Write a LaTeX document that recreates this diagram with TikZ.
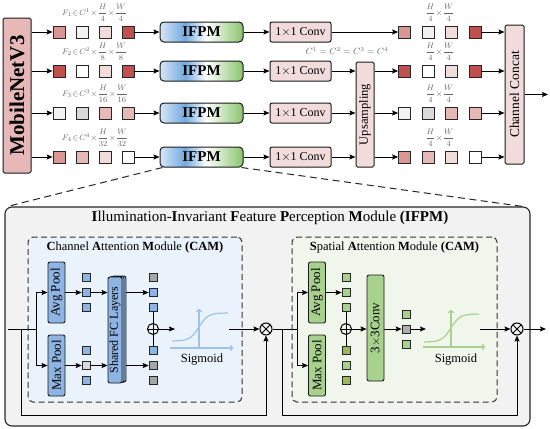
\documentclass[tikz,border=0pt]{standalone}
\usepackage{amsmath}
\usepackage{fontspec}
\setmainfont{Liberation Serif}
\usepackage{graphicx}
\usepackage{tikz}
\usetikzlibrary{arrows.meta, positioning, calc}

\definecolor{ifpmlight}{RGB}{214,230,246}
\definecolor{ifpmblue}{RGB}{116,170,224}
\definecolor{ifpmgreen}{RGB}{138,196,108}
\pgfdeclarehorizontalshading{ifpmshade}{100bp}{%
  color(0bp)=(ifpmlight); color(25bp)=(ifpmlight); color(40bp)=(ifpmblue);
  color(53bp)=(white); color(75bp)=(ifpmgreen); color(100bp)=(ifpmgreen)}

\begin{document}
\begin{tikzpicture}[
  x=1pt, y=-1pt,
  execute at begin picture={
    \definecolor{mnpink}{RGB}{230,184,183}
    \definecolor{convpink}{RGB}{242,220,219}
    \definecolor{sqdark}{RGB}{192,80,77}
    \definecolor{sqmid}{RGB}{217,150,148}
    \definecolor{sqpink}{RGB}{230,184,183}
    \definecolor{sqlight}{RGB}{242,220,219}
    \definecolor{sqgrayA}{RGB}{242,242,242}
    \definecolor{sqgrayB}{RGB}{217,217,217}
    \definecolor{sqgrayC}{RGB}{166,166,166}
    \definecolor{boxgray}{RGB}{242,242,242}
    \definecolor{camfill}{RGB}{234,243,252}
    \definecolor{samfill}{RGB}{240,246,235}
    \definecolor{poolblue}{RGB}{141,180,226}
    \definecolor{sigblue}{RGB}{157,195,230}
    \definecolor{poolgreen}{RGB}{169,209,142}
    \definecolor{olive}{RGB}{155,187,89}
    \definecolor{siggreen}{RGB}{169,209,142}
  },
  >={Stealth[length=6pt,width=5pt,inset=1pt]},
  arrow/.style={->, line width=1pt},
  line/.style={line width=1pt},
  sq/.style={draw=black!85, line width=0.7pt, minimum size=12, inner sep=0},
  mini/.style={draw=black!85, line width=0.6pt, minimum size=8, inner sep=0},
  ifpm/.style={draw=black!90, line width=1pt, rounded corners=4pt,
    shade, shading=ifpmshade, minimum width=83, minimum height=20, inner sep=0,
    font=\fontsize{15}{15}\selectfont\bfseries},
  conv/.style={draw=black!90, line width=1pt, rounded corners=2pt, fill=convpink,
    minimum width=61, minimum height=20, inner sep=0,
    font=\fontsize{12}{12}\selectfont},
  tall/.style={draw=black!90, line width=1pt, rounded corners=1.5pt,
    fill=convpink, inner sep=0},
  lab/.style={text=black!60, inner sep=0, font=\fontsize{8.5}{9}\selectfont},
  bigbox/.style={draw=black!85, line width=1.1pt, rounded corners=7pt, fill=boxgray},
  modbox/.style={draw=black!80, line width=1pt, dash pattern=on 6pt off 3.5pt,
    rounded corners=5pt},
  modtitle/.style={inner sep=0, font=\fontsize{12.5}{13}\selectfont},
  zoomline/.style={draw=black!85, line width=1pt, dash pattern=on 7pt off 4.5pt},
  pool/.style={draw=black!90, line width=0.9pt, rounded corners=2pt, inner sep=0,
    minimum width=17, font=\fontsize{13}{13}\selectfont},
  opcirc/.style={circle, draw=black, line width=1pt, minimum size=11, inner sep=0},
  addop/.style={opcirc, path picture={\draw[line width=1pt]
    (path picture bounding box.north) -- (path picture bounding box.south)
    (path picture bounding box.west) -- (path picture bounding box.east);}},
  mulop/.style={opcirc, minimum size=12, path picture={\draw[line width=1pt]
    (path picture bounding box.north west) -- (path picture bounding box.south east)
    (path picture bounding box.south west) -- (path picture bounding box.north east);}},
  sigaxis/.style={line width=1.2pt, -{To[length=3pt,width=6pt]}},
  sigtext/.style={inner sep=0, font=\fontsize{12.5}{13}\selectfont}
]
\useasboundingbox (0,0) rectangle (550,429);

% backbone, upsampling and concat
\node[tall, fill=mnpink, minimum width=28, minimum height=155,
  font=\fontsize{21}{21}\selectfont\bfseries] (mobilenet) at (17,95.5)
  {\rotatebox{90}{MobileNetV3}};
\node[tall, minimum width=18, minimum height=105,
  font=\fontsize{12.5}{12.5}\selectfont] (ups) at (365,114.5)
  {\rotatebox{90}{Upsampling}};
\node[tall, minimum width=19, minimum height=139,
  font=\fontsize{13.5}{13.5}\selectfont] (concat) at (514.5,94.5)
  {\rotatebox{90}{Channel Concat}};
\coordinate (out) at (548,94.5);
\draw[arrow] (concat) -- (out);

% four feature levels
\foreach \row/\y/\ca/\cb/\cc/\cd/\den in {
    1/32/sqmid/sqgrayA/sqlight/sqdark/4,
    2/71/sqdark/white/sqlight/sqdark/8,
    3/113/sqgrayA/sqgrayB/sqpink/sqpink/16,
    4/157/sqmid/sqpink/sqlight/white/32}{
  \node[sq, fill=\ca] (in\row-1) at (59,\y) {};
  \node[sq, fill=\cb] (in\row-2) at (82,\y) {};
  \node[sq, fill=\cc] (in\row-3) at (105,\y) {};
  \node[sq, fill=\cd] (in\row-4) at (128,\y) {};
  \node[lab, anchor=west] (flab\row) at (62,\y-19)
    {$F_\row\!\in\! C^\row\!\times\!\dfrac{H}{\den}\!\times\!\dfrac{W}{\den}$};
  \node[ifpm] (ifpm\row) at (201.5,\y) {IFPM};
  \node[conv] (conv\row) at (300.5,\y) {1$\times$1 Conv};
  \node[sq, fill=\ca] (out\row-1) at (404.5,\y) {};
  \node[sq, fill=\cb] (out\row-2) at (428,\y) {};
  \node[sq, fill=\cc] (out\row-3) at (451.5,\y) {};
  \node[sq, fill=\cd] (out\row-4) at (475,\y) {};
  \node[lab] (olab\row) at (440,\y-19) {$\dfrac{H}{4}\!\times\!\dfrac{W}{4}$};
  \draw[arrow] (mobilenet.east |- in\row-1) -- (in\row-1);
  \draw[arrow] (in\row-4) -- (ifpm\row);
  \draw[arrow] (ifpm\row) -- (conv\row);
  \draw[arrow] (out\row-4) -- (concat.west |- out\row-4);
}
\draw[arrow] (conv1) -- (out1-1);
\foreach \row in {2,3,4}{
  \draw[arrow] (conv\row) -- (ups.west |- conv\row);
  \draw[arrow] (ups.east |- out\row-1) -- (out\row-1);
}
\node[lab, font=\fontsize{9}{9}\selectfont] (clab) at (347,51) {$C^1=C^2=C^3=C^4$};

% IFPM detail
\node[bigbox, minimum width=525, minimum height=219] (ifpmbox) at (267.5,316.5) {};
\draw[zoomline] ([xshift=3pt]ifpm4.south west) -- ([xshift=3pt]ifpmbox.north west);
\draw[zoomline] ([xshift=-2pt]ifpm4.south east) -- ([xshift=-8pt]ifpmbox.north east);
\node[inner sep=0, font=\fontsize{15}{15}\selectfont] (ifpmtitle) at (270,218)
  {\textbf{I}llumination-\textbf{I}nvariant \textbf{F}eature \textbf{P}erception
   \textbf{M}odule \textbf{(IFPM)}};

% channel attention
\node[modbox, fill=camfill, minimum width=214, minimum height=165] (cam) at (135,319.5) {};
\node[modtitle] (camtitle) at (135,247)
  {\textbf{C}hannel \textbf{A}ttention \textbf{M}odule \textbf{(CAM)}};
\node[pool, fill=poolblue, minimum height=61] (camavg) at (56.5,292.5) {\rotatebox{90}{Avg Pool}};
\node[pool, fill=poolblue, minimum height=61] (cammax) at (56.5,365.5) {\rotatebox{90}{Max Pool}};
\node[mini, fill=poolblue] (ca1) at (86,277.5) {};
\node[mini, fill=poolblue] (ca2) at (86,292.5) {};
\node[mini, fill=poolblue] (ca3) at (86,307.5) {};
\node[mini, fill=poolblue] (cm1) at (86,350.5) {};
\node[mini, fill=sqgrayB] (cm2) at (86,365.5) {};
\node[mini, fill=poolblue] (cm3) at (86,380.5) {};
\node[pool, fill=poolblue, minimum width=14, minimum height=106] (fcback2) at (119,329) {};
\node[pool, fill=poolblue, minimum width=14, minimum height=106] (fcback1) at (117,329.5) {};
\node[pool, fill=poolblue, minimum width=14, minimum height=106,
  font=\fontsize{12}{12}\selectfont] (fc) at (115,330) {\rotatebox{90}{Shared FC Layers}};
\node[mini, fill=sqgrayC] (cb1) at (153,277.5) {};
\node[mini, fill=poolblue] (cb2) at (153,292.5) {};
\node[mini, fill=poolblue] (cb3) at (153,307.5) {};
\node[mini, fill=poolblue] (cd1) at (153,350.5) {};
\node[mini, fill=sqgrayC] (cd2) at (153,365.5) {};
\node[mini, fill=sqgrayC] (cd3) at (153,380.5) {};
\node[addop] (add1) at (153,329) {};
\node[mulop] (mul1) at (266,329) {};
\coordinate (camin) at (8,329);
\coordinate (camres) at (21,329);
\coordinate (camsplit) at (36,329);
\coordinate (sigin1) at (175,329);
\coordinate (sigout1) at (229,329);

\draw[line] (camin) -- (camsplit);
\draw[arrow] (camsplit) |- (camavg.west);
\draw[arrow] (camsplit) |- (cammax.west);
\draw[arrow] (camres) -- ++(0,86) -| (mul1.south);
\draw[arrow] (camavg) -- (ca2);
\draw[arrow] (cammax) -- (cm2);
\draw[arrow] (ca2) -- (ca2 -| fc.west);
\draw[arrow] (cm2) -- (cm2 -| fc.west);
\draw[arrow] (cb2 -| fcback2.east) -- (cb2);
\draw[arrow] (cd2 -| fcback2.east) -- (cd2);
\draw[line] (cb3) -- (add1);
\draw[line] (cd1) -- (add1);
\draw[arrow] (add1) -- (sigin1);
\draw[arrow] (sigout1) -- (mul1);

\draw[sigaxis, draw=sigblue] (170,348) -- (233,348);
\draw[sigaxis, draw=sigblue] (199,348) -- (199,309);
\draw[line width=1.2pt, sigblue] plot[domain=-27:29, samples=40] ({199+\x},{327-14*tanh(\x/9)});
\node[sigtext] (sig1) at (202,360) {Sigmoid};

% spatial attention
\node[modbox, fill=samfill, minimum width=205, minimum height=165] (sam) at (394.5,319.5) {};
\node[modtitle] (samtitle) at (394.5,247)
  {\textbf{S}patial \textbf{A}ttention \textbf{M}odule \textbf{(CAM)}};
\node[pool, fill=poolgreen, minimum height=61] (samavg) at (317,292.5) {\rotatebox{90}{Avg Pool}};
\node[pool, fill=poolgreen, minimum height=61] (sammax) at (317,365.5) {\rotatebox{90}{Max Pool}};
\node[mini, fill=poolgreen] (sa1) at (346,277.5) {};
\node[mini, fill=poolgreen] (sa2) at (346,292.5) {};
\node[mini, fill=poolgreen] (sa3) at (346,307.5) {};
\node[mini, fill=olive] (sm1) at (346,350.5) {};
\node[mini, fill=poolgreen] (sm2) at (346,365.5) {};
\node[mini, fill=olive] (sm3) at (346,380.5) {};
\node[addop] (add2) at (346,329) {};
\node[pool, fill=poolgreen, minimum height=106] (conv3) at (375.5,328)
  {\rotatebox{90}{3$\times$3Conv}};
\node[mini, fill=poolgreen] (sc1) at (406,314) {};
\node[mini, fill=sqgrayB!80!black] (sc2) at (406,329) {};
\node[mini, fill=poolgreen] (sc3) at (406,344) {};
\node[mulop] (mul2) at (517,329) {};
\coordinate (samres) at (282,329);
\coordinate (samsplit) at (297,329);
\coordinate (sigin2) at (426,329);
\coordinate (sigout2) at (480,329);
\coordinate (samout) at (546,329);

\draw[line] (mul1) -- (samsplit);
\draw[arrow] (samsplit) |- (samavg.west);
\draw[arrow] (samsplit) |- (sammax.west);
\draw[arrow] (samres) -- ++(0,86) -| (mul2.south);
\draw[arrow] (samavg) -- (sa2);
\draw[line] (sa3) -- (add2);
\draw[line] (sm1) -- (add2);
\draw[arrow] (add2) -- (add2 -| conv3.west);
\draw[arrow] (conv3.east |- sc2) -- (sc2);
\draw[arrow] (sc2) -- (sigin2);
\draw[arrow] (sigout2) -- (mul2);
\draw[arrow] (mul2) -- (samout);

\draw[sigaxis, draw=siggreen] (423,347) -- (485,347);
\draw[sigaxis, draw=siggreen] (451,347) -- (451,310);
\draw[line width=1.2pt, siggreen] plot[domain=-27:28, samples=40] ({451+\x},{328-14*tanh(\x/9)});
\node[sigtext] (sig2) at (456,360) {Sigmoid};

\end{tikzpicture}
\end{document}
